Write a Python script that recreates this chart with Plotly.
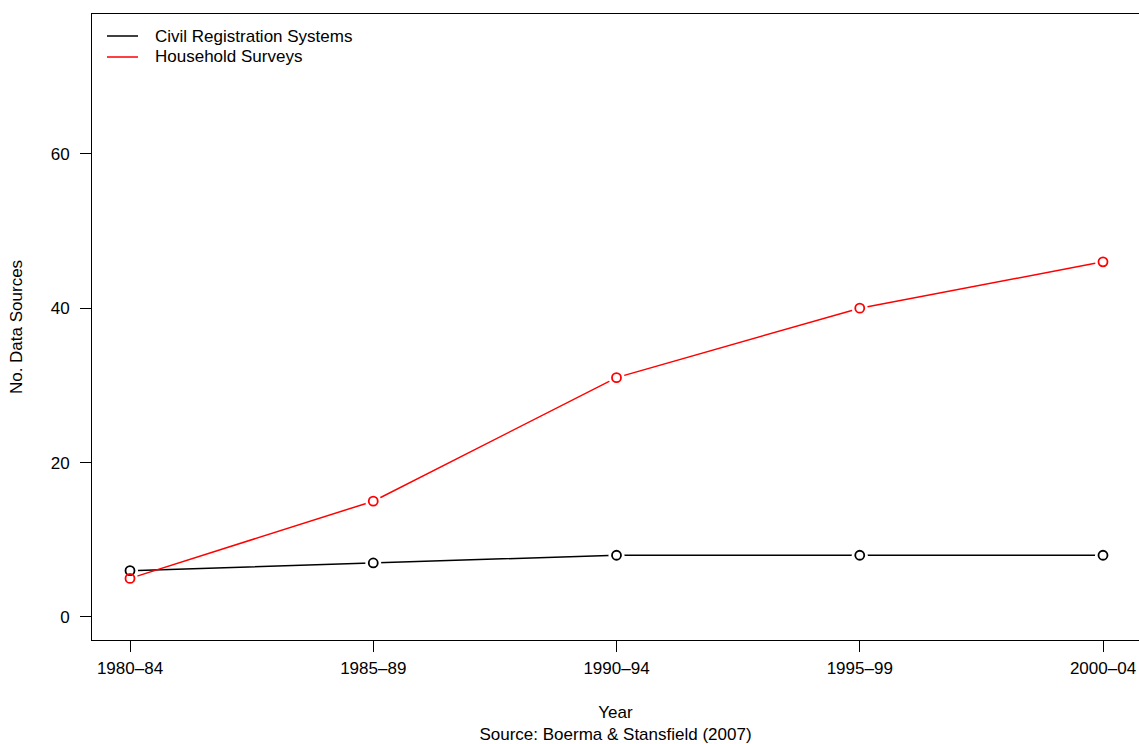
import plotly.graph_objects as go

periods = ["1980\u201384", "1985\u201389", "1990\u201394", "1995\u201399", "2000\u201304"]
civil_registration = [6, 7, 8, 8, 8]
household_surveys = [5, 15, 31, 40, 46]
y_ticks = [0, 20, 40, 60]

FONT = "Liberation Sans, Arial, Helvetica, sans-serif"
series = [("Civil Registration Systems", civil_registration, "black"),
          ("Household Surveys", household_surveys, "red")]

W, H = 1139, 744
L, R, T, B = 92, 0, 14, 104
pw, ph = W - L - R, H - T - B

def px_x(p):
    return (p - L) / pw

def px_y(p):
    return (H - B - p) / ph

fig = go.Figure()
for name, vals, col in series:
    fig.add_trace(go.Scatter(x=periods, y=vals, mode="lines", name=name,
                             line=dict(color=col, width=1.5), showlegend=False))
for name, vals, col in series:
    fig.add_trace(go.Scatter(x=periods, y=vals, mode="markers", showlegend=False,
                             marker=dict(symbol="circle", size=16, color="white",
                                         line=dict(width=0)), hoverinfo="skip"))
for name, vals, col in series:
    fig.add_trace(go.Scatter(x=periods, y=vals, mode="markers", name=name,
                             showlegend=False,
                             marker=dict(symbol="circle-open", size=9, color=col,
                                         line=dict(width=1.8, color=col))))

# legend (top-left inside the box)
shapes, annotations = [], []
for i, (name, vals, col) in enumerate(series):
    yy = px_y(36 + 21 * i)
    shapes.append(dict(type="line", xref="paper", yref="paper",
                       x0=px_x(107), x1=px_x(138), y0=yy, y1=yy,
                       line=dict(color=col, width=1.5)))
    annotations.append(dict(xref="paper", yref="paper", x=px_x(153), y=yy,
                            xanchor="left", yanchor="middle", text=name,
                            showarrow=False, font=dict(size=17, color="black")))

fig.update_layout(
    width=W, height=H,
    margin=dict(l=L, r=R, t=T, b=B, autoexpand=False),
    paper_bgcolor="white", plot_bgcolor="white",
    font=dict(family=FONT, size=17, color="black"),
    showlegend=False, shapes=shapes, annotations=annotations,
)
fig.update_xaxes(
    type="category", categoryorder="array", categoryarray=periods,
    range=[-0.1562, 4.148], showgrid=False, zeroline=False,
    showline=True, linecolor="black", linewidth=1, mirror=True,
    ticks="outside", ticklen=11, tickcolor="black", tickwidth=1,
    tickfont=dict(size=17), automargin=False, ticklabelstandoff=2,
    title=dict(text="Year<br>Source: Boerma & Stansfield (2007)", standoff=34,
               font=dict(size=17)),
)
fig.update_yaxes(
    range=[-2.98, 78.1], tickvals=y_ticks, ticktext=[str(v) for v in y_ticks],
    showgrid=False, zeroline=False, showline=True, linecolor="black", linewidth=1,
    ticks="outside", ticklen=11, tickcolor="black", tickwidth=1,
    tickfont=dict(size=17), automargin=False, ticklabelstandoff=7,
    title=dict(text="No. Data Sources", standoff=23, font=dict(size=17)),
)

fig.write_html("out.html", config={"displayModeBar": False},
               post_script="document.body.style.margin='0';document.body.style.overflow='hidden';")
